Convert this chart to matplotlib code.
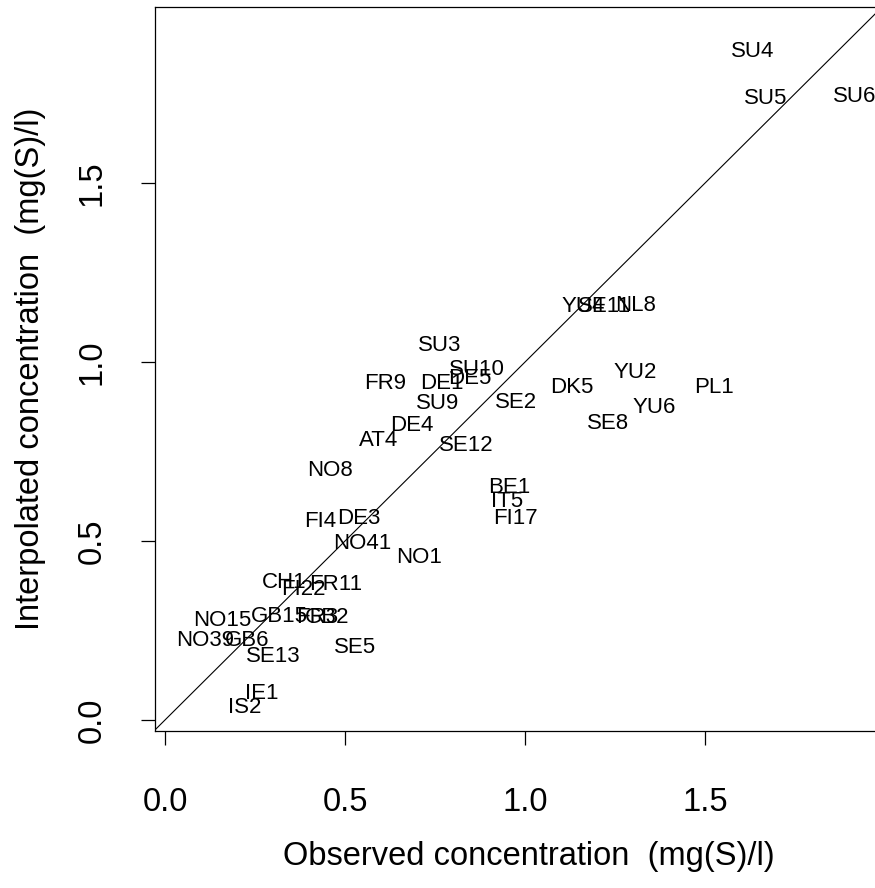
import matplotlib
matplotlib.use("Agg")
import matplotlib.pyplot as plt

plt.rcParams["font.family"] = ["Liberation Sans", "DejaVu Sans"]

# site codes with observed / interpolated concentrations (mg(S)/l)
sites = [
    "SU4", "SU5", "SU6", "YU4", "SE11", "NL8", "YU2", "DK5", "PL1", "YU6",
    "SE8", "SE2", "SU3", "SU10", "DE1", "DE5", "FR9", "SU9", "DE4", "AT4",
    "SE12", "NO8", "BE1", "IT5", "FI17", "DE3", "FI4", "NO41", "NO1", "CH1",
    "FR11", "FI22", "NO15", "GB15", "FR3", "GB2", "NO39", "GB6", "SE13", "SE5",
    "IE1", "IS2",
]
observed = [
    1.633, 1.669, 1.917, 1.161, 1.222, 1.306, 1.306, 1.131, 1.525, 1.358,
    1.230, 0.975, 0.764, 0.867, 0.770, 0.847, 0.611, 0.756, 0.686, 0.592,
    0.836, 0.458, 0.955, 0.950, 0.972, 0.539, 0.431, 0.548, 0.706, 0.331,
    0.474, 0.383, 0.159, 0.317, 0.422, 0.450, 0.111, 0.229, 0.300, 0.528,
    0.269, 0.222,
]
interpolated = [
    1.869, 1.737, 1.743, 1.154, 1.154, 1.157, 0.972, 0.930, 0.930, 0.874,
    0.827, 0.888, 1.047, 0.978, 0.941, 0.955, 0.941, 0.885, 0.824, 0.782,
    0.768, 0.698, 0.648, 0.609, 0.564, 0.564, 0.553, 0.494, 0.455, 0.383,
    0.377, 0.363, 0.279, 0.288, 0.285, 0.285, 0.223, 0.223, 0.176, 0.201,
    0.075, 0.036,
]
ticks = [0.0, 0.5, 1.0, 1.5]

W, H = 875, 888
fig = plt.figure(figsize=(W / 100, H / 100), dpi=100)
# plot region runs past the right edge of the picture
left, right, top, bottom = 155, 903, 7, 731
ax = fig.add_axes([left / W, 1 - bottom / H, (right - left) / W, (bottom - top) / H])

for name, x, y in zip(sites, observed, interpolated):
    ax.text(x, y, name, fontsize=16, ha="center", va="center", color="black")

ax.axline((0, 0), slope=1, color="black", linewidth=0.8)

ax.set_xlim(-0.028, 2.05)
ax.set_ylim(-0.031, 1.992)
ax.set_xticks(ticks)
ax.set_yticks(ticks)
ax.set_xticklabels([f"{t:.1f}" for t in ticks])
ax.set_yticklabels([f"{t:.1f}" for t in ticks], rotation=90, va="center")
ax.tick_params(axis="both", direction="out", length=10, width=0.9, labelsize=23.5)
ax.tick_params(axis="x", pad=30)
ax.tick_params(axis="y", pad=24)
for spine in ax.spines.values():
    spine.set_linewidth(0.9)

ax.set_xlabel("Observed concentration  (mg(S)/l)", fontsize=23.5, va="center")
ax.xaxis.set_label_coords(0.5, -0.174)
ax.set_ylabel("Interpolated concentration  (mg(S)/l)", fontsize=23.5, va="center")
ax.yaxis.set_label_coords(-0.167, 0.5)

fig.savefig("out.png", dpi=100)
